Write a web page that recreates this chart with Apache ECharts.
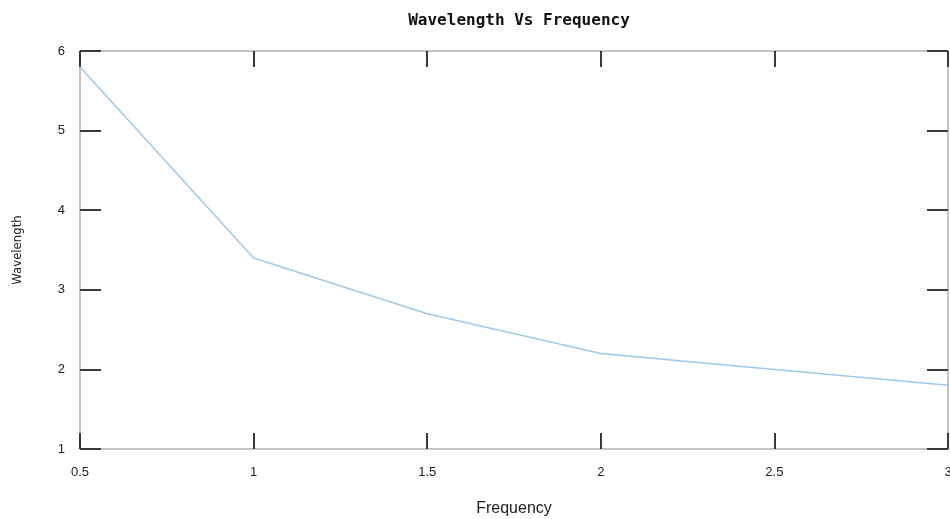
<!DOCTYPE html>
<html>
<head>
<meta charset="utf-8">
<script src="https://cdn.jsdelivr.net/npm/echarts@6/dist/echarts.min.js"></script>
<style>
    html, body { margin: 0; padding: 0; background: #fff; }
    #chart { width: 950px; height: 519px; }
</style>
</head>
<body>
<div id="chart"></div>
<script>
    // data
    const frequency = [0.5, 1, 1.5, 2, 2.5, 3]
    const wavelength = [5.8, 3.4, 2.7, 2.2, 2.0, 1.8]

    const myChart = echarts.init(document.getElementById('chart'))

    const tickColor = '#3a3a3a'
    const frameColor = '#c4c4c4'
    const labelStyle = { color: '#222', fontSize: 13, fontFamily: 'Liberation Sans' }

    // shared settings for main and mirror axes
    const xBase = {
        type: 'value', min: 0.5, max: 3, interval: 0.5,
        axisLine: { show: true, lineStyle: { color: frameColor, width: 2 } },
        axisTick: { show: true, inside: true, length: 16, lineStyle: { color: tickColor, width: 2 } },
        splitLine: { show: false }
    }
    const yBase = {
        type: 'value', min: 1, max: 6, interval: 1,
        axisLine: { show: true, lineStyle: { color: frameColor, width: 2 } },
        axisTick: { show: true, inside: true, length: 21, lineStyle: { color: tickColor, width: 2 } },
        splitLine: { show: false }
    }

    let option = {
        animation: false,
        backgroundColor: '#fff',
        title: {
            text: 'Wavelength Vs Frequency',
            left: 514, top: 8, textAlign: 'center',
            textStyle: { fontFamily: 'DejaVu Sans Mono', fontWeight: 'bold', fontSize: 16, color: '#111' }
        },
        grid: { left: 80, right: 2, top: 51, bottom: 70, outerBoundsMode: 'none', containLabel: false },
        xAxis: [
            Object.assign({}, xBase, {
                position: 'bottom',
                name: 'Frequency', nameLocation: 'middle', nameGap: 52,
                nameTextStyle: { color: '#222', fontSize: 16, fontFamily: 'Liberation Sans' },
                axisLabel: Object.assign({ margin: 17 }, labelStyle)
            }),
            Object.assign({}, xBase, { position: 'top', axisLabel: { show: false } })
        ],
        yAxis: [
            Object.assign({}, yBase, {
                position: 'left',
                name: 'Wavelength', nameLocation: 'middle', nameGap: 56,
                nameTextStyle: { color: '#222', fontSize: 13, fontFamily: 'DejaVu Sans Condensed' },
                axisLabel: Object.assign({ margin: 15 }, labelStyle)
            }),
            Object.assign({}, yBase, { position: 'right', axisLabel: { show: false } })
        ],
        series: [{
            type: 'line',
            data: frequency.map((f, i) => [f, wavelength[i]]),
            showSymbol: false,
            lineStyle: { color: '#9cc9ea', width: 1.5 }
        }]
    }

    myChart.setOption(option)
</script>
</body>
</html>
